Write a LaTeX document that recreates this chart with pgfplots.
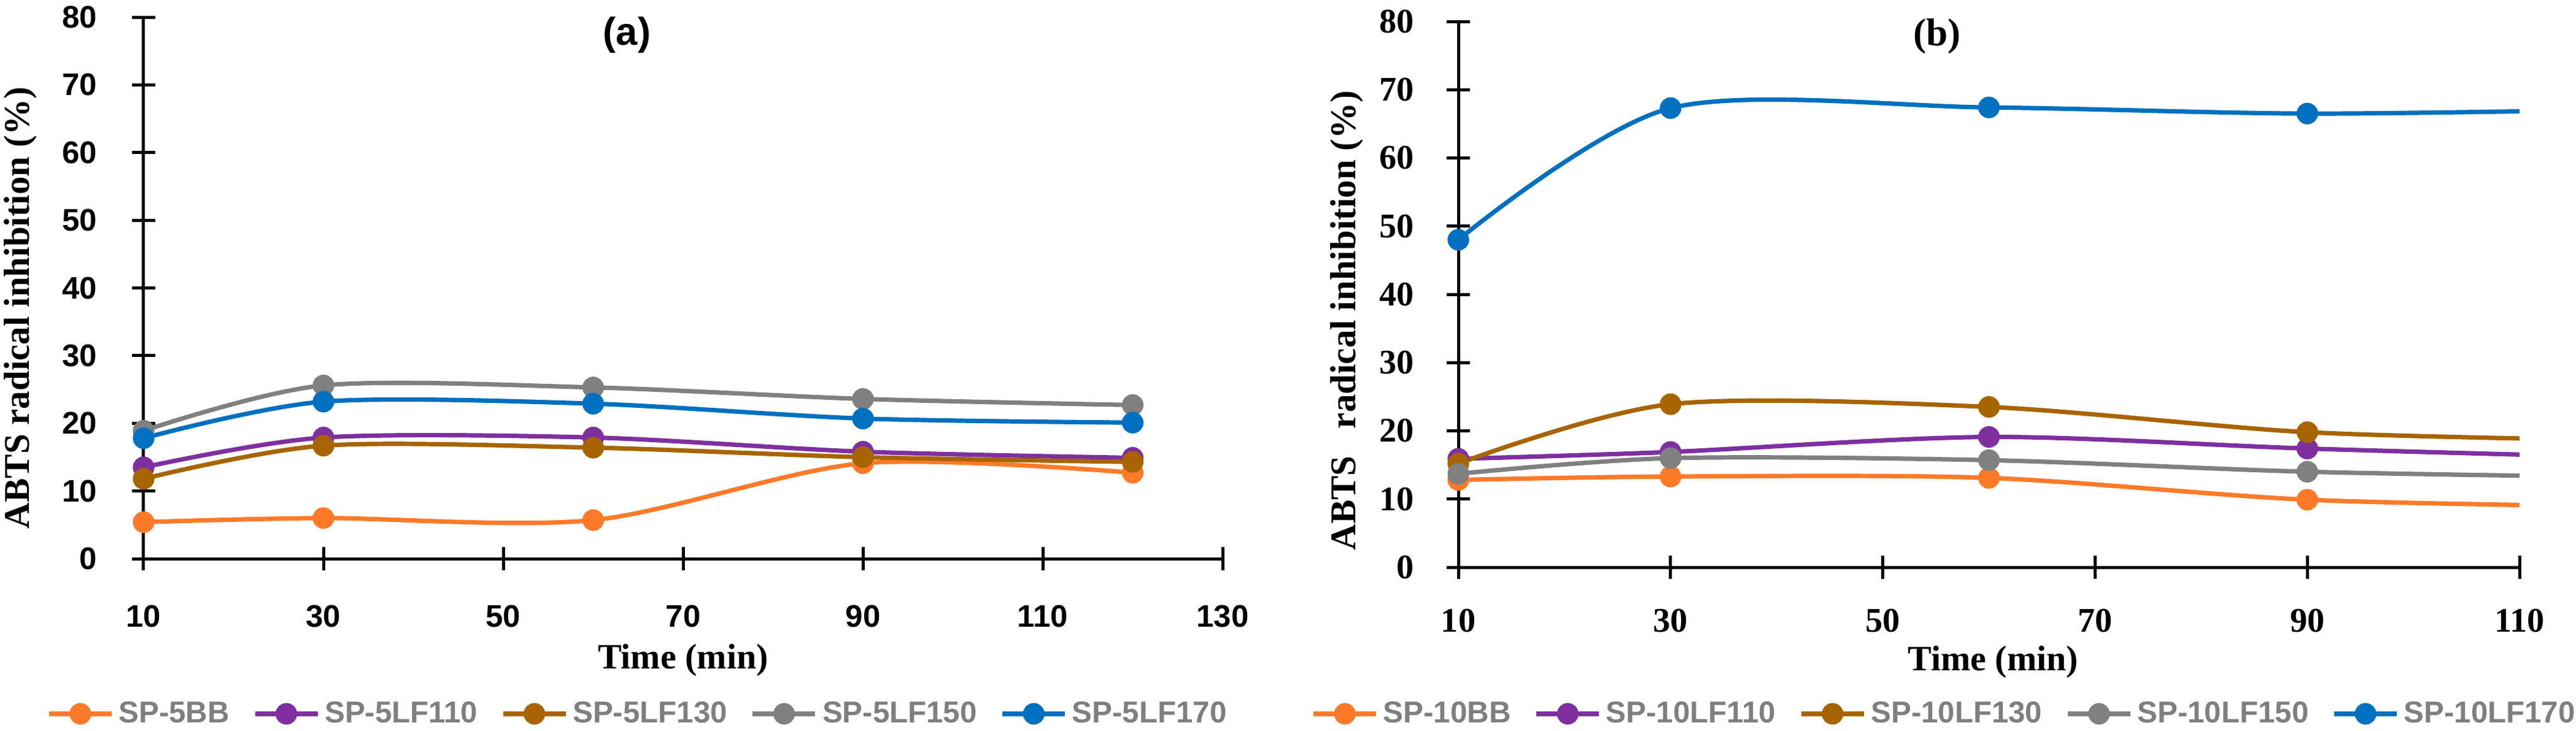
\documentclass[border=0pt]{standalone}
\usepackage{fontspec}
\setmainfont{Liberation Serif}
\setsansfont{Liberation Sans}
\usepackage{pgfplots}
\pgfplotsset{compat=1.18}

\definecolor{cOrange}{HTML}{FF7A28}
\definecolor{cPurple}{HTML}{7F2FA0}
\definecolor{cBrown}{HTML}{A86400}
\definecolor{cGray}{HTML}{808080}
\definecolor{cBlue}{HTML}{0070C0}
\definecolor{legText}{HTML}{7F7F7F}

\newcommand\fsz[1]{\fontsize{#1}{#1}\selectfont}

\pgfplotsset{
  abts/.style={
    scale only axis,
    anchor=south west,
    ymin=0, ymax=80,
    ytick={0,10,...,80},
    axis lines=left,
    axis line style={-, line width=0.5mm, black},
    tick align=center,
    major tick length=3.8mm,
    tick style={line width=0.5mm, black},
    /pgf/number format/assume math mode=true,
    every axis plot/.append style={smooth, line width=0.72mm, mark=*, mark size=1.4mm},
    legend columns=5,
    legend cell align=left,
    legend image code/.code={\draw[mark indices={2}] plot coordinates {(0mm,0mm) (5.1mm,0mm) (10.2mm,0mm)};},
    legend style={draw=none, fill=none, anchor=center,
      font=\sffamily\bfseries\fsz{14}, text=legText,
      nodes={inner sep=0pt},
      /tikz/every odd column/.append style={column sep=0.8mm},
      /tikz/every even column/.append style={column sep=3.8mm}},
  },
}

\begin{document}
\begin{tikzpicture}
\useasboundingbox (0,0) rectangle (419.7mm,119.1mm);

% panel (a)
\begin{axis}[abts,
  at={(23.4mm,28.0mm)},
  width=175.8mm, height=88.3mm,
  xmin=10, xmax=130,
  xtick={10,30,...,130},
  ticklabel style={font=\sffamily\bfseries\fsz{14.5}},
  xticklabel style={anchor=north, inner sep=0pt, yshift=-5.6mm},
  yticklabel style={anchor=east, inner sep=0pt, xshift=-5.6mm},
  xlabel={Time (min)},
  ylabel={ABTS radical inhibition (\%)},
  every axis x label/.style={at={(axis description cs:0.5,-0.187)}, anchor=center, font=\rmfamily\bfseries\fsz{16.5}},
  every axis y label/.style={at={(axis description cs:-0.114,0.463)}, anchor=center, rotate=90, font=\rmfamily\bfseries\fsz{16.8}},
  title={(a)},
  title style={at={(axis description cs:0.448,0.943)}, anchor=center, font=\sffamily\bfseries\fsz{18}},
  legend style={at={(axis description cs:0.457,-0.2865)}},
]
\addplot[color=cOrange, mark options={fill=cOrange}] coordinates {(10,5.4) (30,6.0) (60,5.7) (90,14.1) (120,12.7)};
\addplot[color=cPurple, mark options={fill=cPurple}] coordinates {(10,13.5) (30,17.9) (60,17.9) (90,15.8) (120,14.9)};
\addplot[color=cBrown, mark options={fill=cBrown}] coordinates {(10,11.8) (30,16.7) (60,16.4) (90,15.0) (120,14.3)};
\addplot[color=cGray, mark options={fill=cGray}] coordinates {(10,18.9) (30,25.6) (60,25.3) (90,23.6) (120,22.7)};
\addplot[color=cBlue, mark options={fill=cBlue}] coordinates {(10,17.8) (30,23.2) (60,22.9) (90,20.7) (120,20.1)};
\legend{SP-5BB, SP-5LF110, SP-5LF130, SP-5LF150, SP-5LF170}
\end{axis}

% panel (b)
\begin{axis}[abts,
  at={(237.6mm,26.6mm)},
  width=172.9mm, height=89.0mm,
  xmin=10, xmax=110,
  xtick={10,30,...,110},
  ticklabel style={font=\rmfamily\bfseries\fsz{16}},
  xticklabel style={anchor=north, inner sep=0pt, yshift=-4.8mm},
  yticklabel style={anchor=east, inner sep=0pt, xshift=-5.3mm},
  xlabel={Time (min)},
  ylabel={ABTS\hspace{0.75em}radical inhibition (\%)},
  every axis x label/.style={at={(axis description cs:0.504,-0.174)}, anchor=center, font=\rmfamily\bfseries\fsz{16.5}},
  every axis y label/.style={at={(axis description cs:-0.1053,0.452)}, anchor=center, rotate=90, font=\rmfamily\bfseries\fsz{16.8}},
  title={(b)},
  title style={at={(axis description cs:0.451,0.949)}, anchor=center, font=\rmfamily\bfseries\fsz{18}},
  legend style={at={(axis description cs:0.457,-0.2685)}},
  mark indices={1,2,3,4},
]
\addplot[color=cOrange, mark options={fill=cOrange}] coordinates {(10,12.8) (30,13.3) (60,13.1) (90,9.9) (120,8.9)};
\addplot[color=cPurple, mark options={fill=cPurple}] coordinates {(10,15.9) (30,16.9) (60,19.1) (90,17.4) (120,16.1)};
\addplot[color=cBrown, mark options={fill=cBrown}] coordinates {(10,15.2) (30,23.9) (60,23.5) (90,19.8) (120,18.6)};
\addplot[color=cGray, mark options={fill=cGray}] coordinates {(10,13.7) (30,16.0) (60,15.7) (90,14.0) (120,13.2)};
\addplot[color=cBlue, mark options={fill=cBlue}] coordinates {(10,48.0) (30,67.3) (60,67.4) (90,66.5) (120,67.1)};
\legend{SP-10BB, SP-10LF110, SP-10LF130, SP-10LF150, SP-10LF170}
\end{axis}
\end{tikzpicture}
\end{document}
